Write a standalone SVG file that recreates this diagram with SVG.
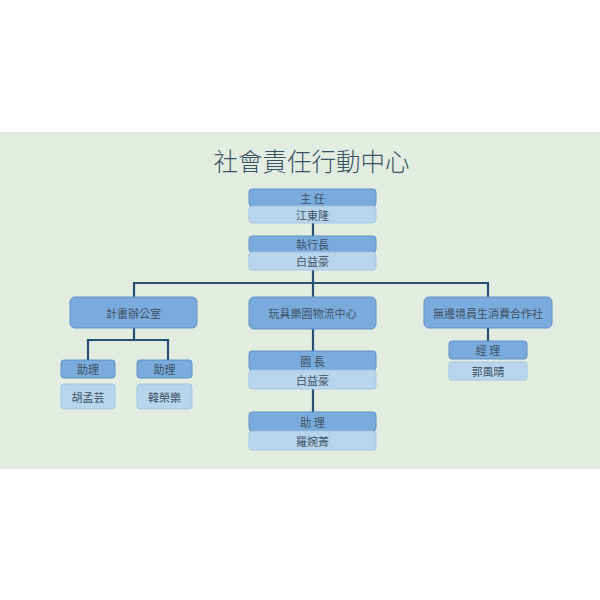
<svg xmlns="http://www.w3.org/2000/svg" width="600" height="600" viewBox="0 0 600 600">
<defs>
<style>
text{font-family:"Noto Sans CJK TC","Noto Sans CJK SC",sans-serif;fill:#3c5166;text-anchor:middle;dominant-baseline:central}
.t{font-size:11px}
.title{font-size:24.5px;fill:#3b5263;font-weight:300}
.h{fill:#7babdc;stroke:#5e92c6;stroke-width:1}
.n{fill:#b9d5eb;stroke:#a6c6e2;stroke-width:1}
.c{fill:none;stroke:#274f73;stroke-width:2.2}
</style>
</defs>
<rect x="0" y="0" width="600" height="600" fill="#ffffff"/>
<rect x="0" y="132" width="600" height="337" fill="#e3ece0"/>
<text class="title" x="311.5" y="160">社會責任行動中心</text>
<g id="connectors">
<path class="c" d="M313 223V236"/>
<path class="c" d="M313 270V283M134 297V283H488V297"/>
<path class="c" d="M313 283V297"/>
<path class="c" d="M134 328V340M88 360V340H168V360"/>
<path class="c" d="M313 329V351"/>
<path class="c" d="M313 389V412"/>
<path class="c" d="M488 328V341"/>
</g>
<g id="director">
<rect class="h" x="249" y="189" width="127" height="17" rx="3"/>
<text class="t" x="312.5" y="197.5">主 任</text>
<rect class="n" x="249" y="206" width="127" height="17" rx="3"/>
<text class="t" x="312.5" y="214.5">江東隆</text>
</g>
<g id="ceo">
<rect class="h" x="249" y="236" width="127" height="16" rx="3"/>
<text class="t" x="312.5" y="244">執行長</text>
<rect class="n" x="249" y="252" width="127" height="18" rx="3"/>
<text class="t" x="312.5" y="261">白益豪</text>
</g>
<g id="planning">
<rect class="h" x="70" y="297" width="127" height="31" rx="5"/>
<text class="t" x="133.5" y="312.5">計畫辦公室</text>
</g>
<g id="toypark">
<rect class="h" x="249" y="297" width="127" height="32" rx="5"/>
<text class="t" x="312.5" y="313">玩具樂園物流中心</text>
</g>
<g id="coop">
<rect class="h" x="424" y="297" width="128" height="31" rx="5"/>
<text class="t" x="488" y="312.5">無邊境員生消費合作社</text>
</g>
<g id="assistant1">
<rect class="h" x="61" y="360" width="54" height="18" rx="3"/>
<text class="t" x="88" y="369">助理</text>
<rect class="n" x="61" y="384" width="54" height="25" rx="3"/>
<text class="t" x="88" y="396.5">胡孟芸</text>
</g>
<g id="assistant2">
<rect class="h" x="137" y="360" width="55" height="18" rx="3"/>
<text class="t" x="164.5" y="369">助理</text>
<rect class="n" x="137" y="384" width="55" height="25" rx="3"/>
<text class="t" x="164.5" y="396.5">韓榮樂</text>
</g>
<g id="parkhead">
<rect class="h" x="249" y="351" width="127" height="19" rx="3"/>
<text class="t" x="312.5" y="360.5">園 長</text>
<rect class="n" x="249" y="370" width="127" height="19" rx="3"/>
<text class="t" x="312.5" y="379.5">白益豪</text>
</g>
<g id="parkassistant">
<rect class="h" x="249" y="412" width="127" height="19" rx="3"/>
<text class="t" x="312.5" y="421.5">助 理</text>
<rect class="n" x="249" y="431" width="127" height="19" rx="3"/>
<text class="t" x="312.5" y="440.5">羅婉菁</text>
</g>
<g id="manager">
<rect class="h" x="449" y="341" width="78" height="18" rx="3"/>
<text class="t" x="488" y="350">經 理</text>
<rect class="n" x="449" y="362" width="78" height="18" rx="3"/>
<text class="t" x="488" y="371">郭風晴</text>
</g>
</svg>
